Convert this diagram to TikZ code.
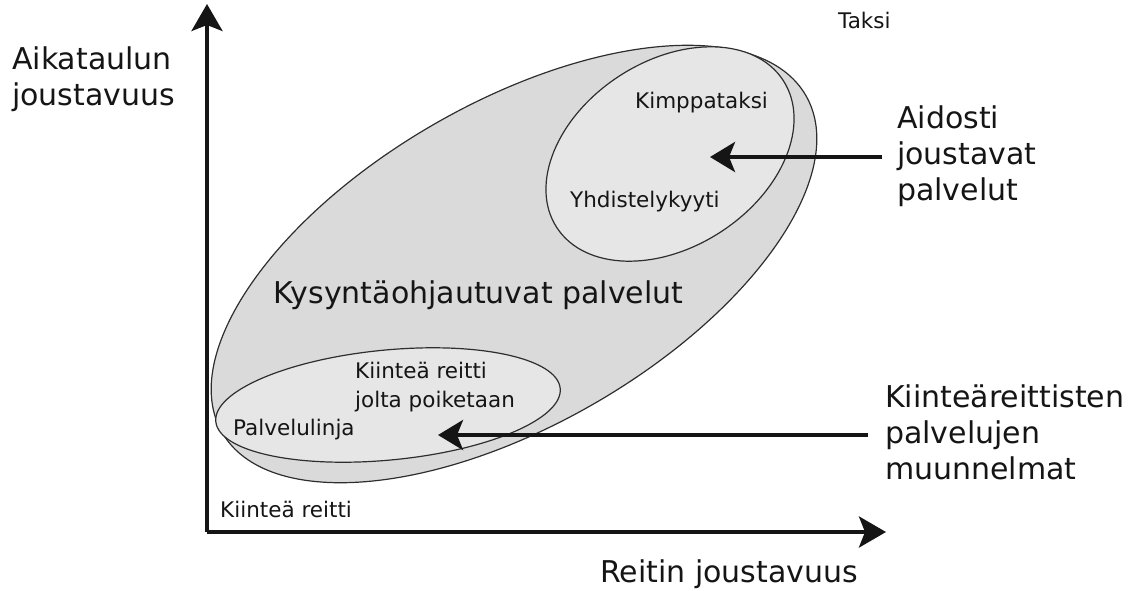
\documentclass[tikz,border=0pt]{standalone}
\usepackage{fontspec}
\setmainfont{DejaVu Sans}
\usetikzlibrary{shapes.geometric,arrows.meta}
\definecolor{outerfill}{HTML}{DADADA}
\definecolor{innerfill}{HTML}{E6E6E6}
\definecolor{rim}{HTML}{2E2E2E}
\definecolor{ink}{HTML}{151515}
\begin{document}
\begin{tikzpicture}[x=1pt,y=-1pt,
  region/.style={ellipse, draw=rim, line width=1.2pt, inner sep=0pt, outer sep=0pt},
  bigtxt/.style={font=\fontsize{30}{36}\selectfont, text=ink, inner sep=0pt, anchor=base west},
  smalltxt/.style={font=\fontsize{21.5}{29}\selectfont, text=ink, inner sep=0pt, anchor=base west},
  axisline/.style={line width=4pt, ink, -{Stealth[length=27pt,width=31pt,inset=6pt]}},
  pointer/.style={line width=4pt, ink, -{Stealth[length=25pt,width=30pt,inset=6pt]}}]
\useasboundingbox (0,0) rectangle (1137,590);

% regions
\node[region, fill=outerfill, minimum width=674pt, minimum height=322pt, rotate=30] (demand) at (514,264) {};
\node[region, fill=innerfill, minimum width=270pt, minimum height=186pt, rotate=33] (flexible) at (670,154) {};
\node[region, fill=innerfill, minimum width=346pt, minimum height=110pt, rotate=5.5] (deviation) at (388,405) {};

% axes
\coordinate (origin) at (207,532);
\coordinate (ytop) at (207,4);
\coordinate (xend) at (886,532);
\draw[axisline] (origin) -- (ytop);
\draw[axisline] (origin) -- (xend);

% axis labels
\node[bigtxt] (ylabA) at (12,69) {Aikataulun};
\node[bigtxt] (ylabB) at (12,105) {joustavuus};
\node[bigtxt] (xlab) at (600,582) {Reitin joustavuus};

% labels inside the regions
\node[bigtxt] (demandlab) at (273,303) {Kysyntäohjautuvat palvelut};
\node[smalltxt] (kimppa) at (635,108) {Kimppataksi};
\node[smalltxt] (yhdistely) at (570,207) {Yhdistelykyyti};
\node[smalltxt] (devA) at (355,378) {Kiinteä reitti};
\node[smalltxt] (devB) at (355,407) {jolta poiketaan};
\node[smalltxt] (palvelulinja) at (233,435) {Palvelulinja};
\node[smalltxt] (fixed) at (220,517) {Kiinteä reitti};
\node[smalltxt] (taksi) at (838,28) {Taksi};

% side captions
\node[bigtxt] (capA1) at (897,128) {Aidosti};
\node[bigtxt] (capA2) at (897,164) {joustavat};
\node[bigtxt] (capA3) at (897,200) {palvelut};
\node[bigtxt] (capB1) at (885,407) {Kiinteäreittisten};
\node[bigtxt] (capB2) at (885,443) {palvelujen};
\node[bigtxt] (capB3) at (885,479) {muunnelmat};

% pointers
\coordinate (pAstart) at (882,157);
\coordinate (pAend) at (710,157);
\coordinate (pBstart) at (868,435);
\coordinate (pBend) at (438,435);
\draw[pointer] (pAstart) -- (pAend);
\draw[pointer] (pBstart) -- (pBend);
\end{tikzpicture}
\end{document}
